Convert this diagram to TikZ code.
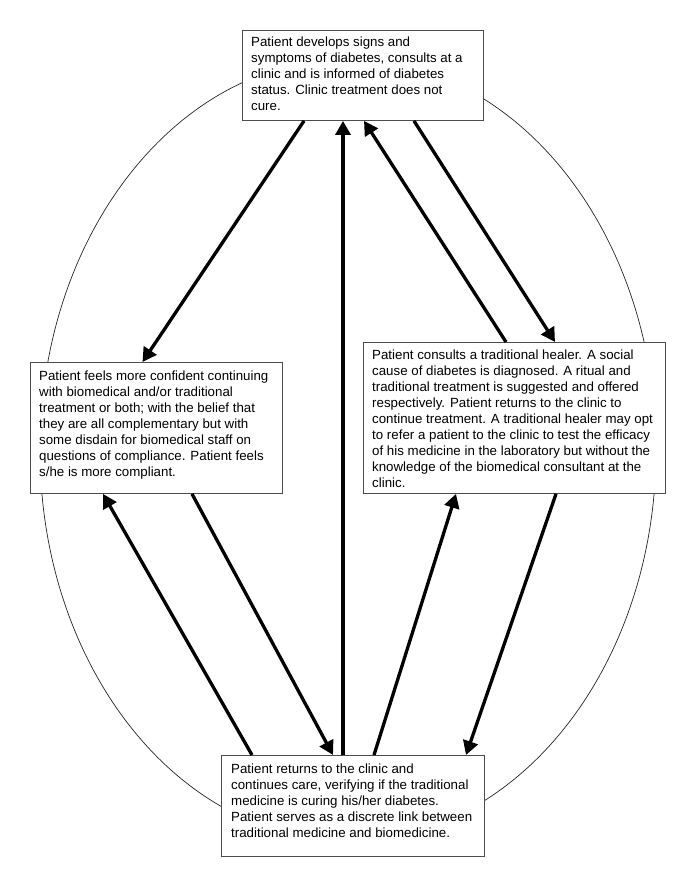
\documentclass[tikz,border=0pt]{standalone}
\usepackage{fontspec}
\setmainfont{Liberation Sans}
\usetikzlibrary{arrows.meta,calc}
\begin{document}
\begin{tikzpicture}[x=1pt,y=-1pt,
  box/.style={draw=black!70,line width=0.9pt,fill=white,rectangle,inner sep=0pt,anchor=north west},
  txt/.style={anchor=north west,inner sep=0pt,align=left,font=\fontsize{13.3}{16}\selectfont},
  flow/.style={line width=3.3pt,-{Triangle[length=14pt,width=15pt]}},
  ring/.style={draw=black!85,line width=0.7pt}]
\useasboundingbox (0,0) rectangle (685,886);
\fill[white] (0,0) rectangle (685,886);
\draw[ring] (348,450) ellipse [x radius=308, y radius=391];

\node[box,minimum width=241pt,minimum height=90pt] (top) at (242,30) {};
\node[txt] (toptext) at ($(top.north west)+(9,7)$) {Patient develops signs and\\symptoms of diabetes, consults at a\\clinic and is informed of diabetes\\status. Clinic treatment does not\\cure.};

\node[box,minimum width=252pt,minimum height=131pt] (left) at (30,362) {};
\node[txt] (lefttext) at ($(left.north west)+(9,8.5)$) {Patient feels more confident continuing\\with biomedical and/or traditional\\treatment or both; with the belief that\\they are all complementary but with\\some disdain for biomedical staff on\\questions of compliance. Patient feels\\s/he is more compliant.};

\node[box,minimum width=302pt,minimum height=151pt] (right) at (363,342) {};
\node[txt] (righttext) at ($(right.north west)+(9,8)$) {Patient consults a traditional healer. A social\\cause of diabetes is diagnosed. A ritual and\\traditional treatment is suggested and offered\\respectively. Patient returns to the clinic to\\continue treatment. A traditional healer may opt\\to refer a patient to the clinic to test the efficacy\\of his medicine in the laboratory but without the\\knowledge of the biomedical consultant at the\\clinic.};

\node[box,minimum width=263pt,minimum height=101pt] (bottom) at (221,755) {};
\node[txt] (bottomtext) at ($(bottom.north west)+(10,9)$) {Patient returns to the clinic and\\continues care, verifying if the traditional\\medicine is curing his/her diabetes.\\Patient serves as a discrete link between\\traditional medicine and biomedicine.};

\draw[flow] ($(top.south west)+(62,0)$) -- ($(left.north west)+(112.5,0)$);
\draw[flow] ($(bottom.north west)+(122,0)$) -- ($(top.south west)+(101,0)$);
\draw[flow] ($(right.north west)+(143,0)$) -- ($(top.south west)+(122,0)$);
\draw[flow] ($(top.south west)+(172,0)$) -- ($(right.north west)+(192,0)$);
\draw[flow] ($(bottom.north west)+(31,0)$) -- ($(left.south west)+(73,0)$);
\draw[flow] ($(left.south west)+(162,0)$) -- ($(bottom.north west)+(112,0)$);
\draw[flow] ($(bottom.north west)+(153,0)$) -- ($(right.south west)+(93,0)$);
\draw[flow] ($(right.south west)+(193,0)$) -- ($(bottom.north west)+(245,0)$);
\end{tikzpicture}
\end{document}
